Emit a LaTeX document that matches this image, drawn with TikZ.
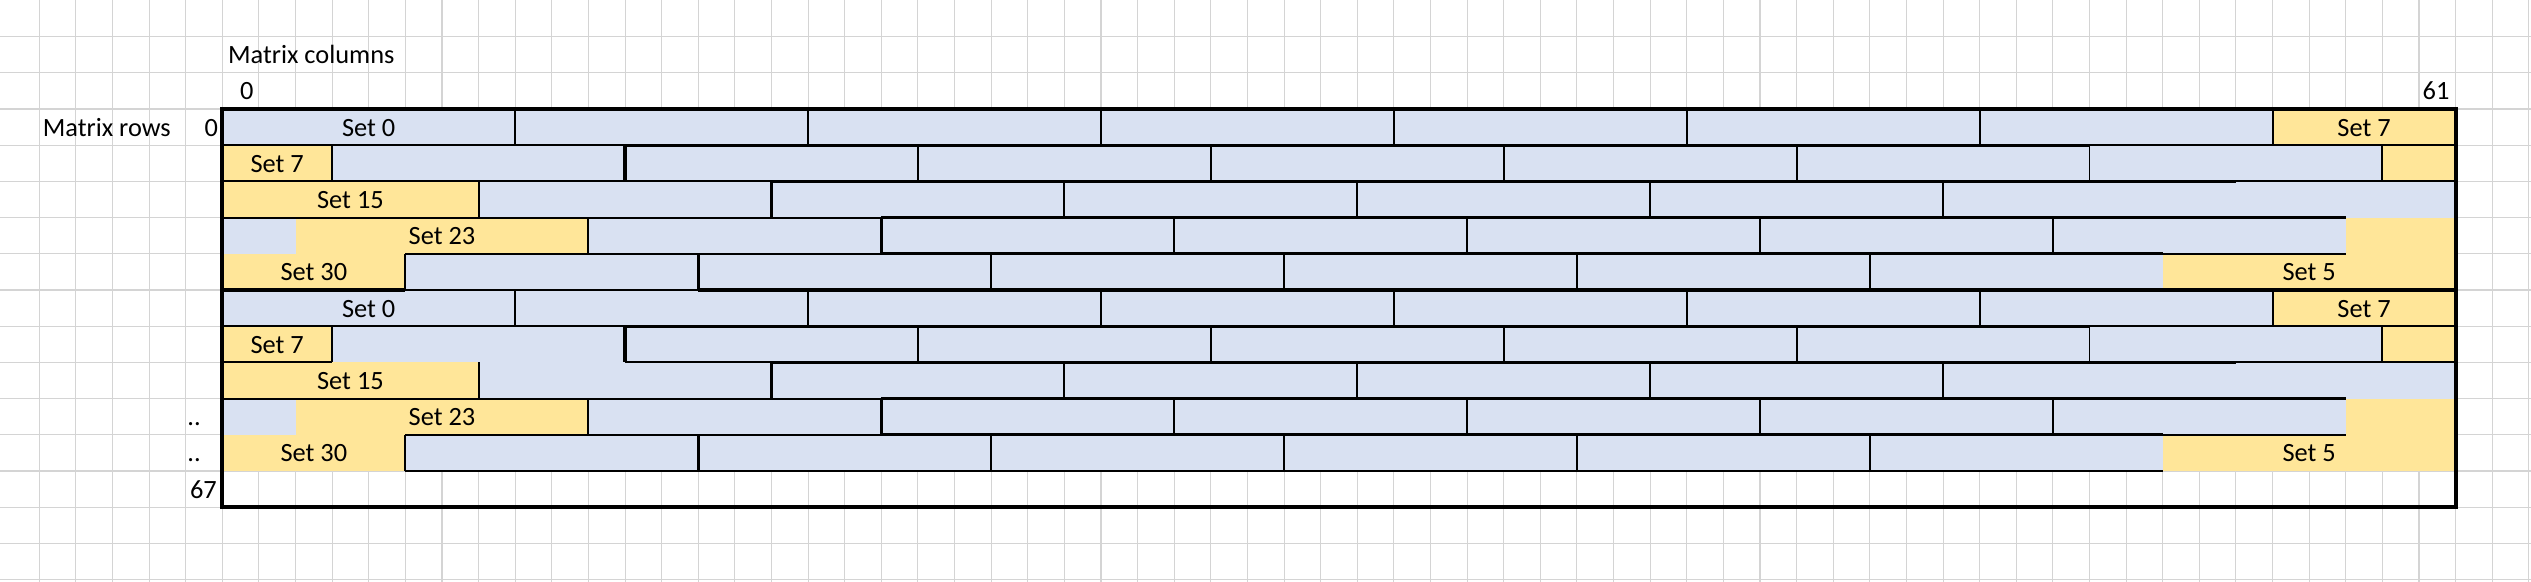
\documentclass[tikz,border=0pt]{standalone}
\usepackage{fontspec}
\setmainfont{Carlito}
\definecolor{setblue}{HTML}{D9E1F2}
\definecolor{setgold}{HTML}{FFE699}
\definecolor{cellgrid}{HTML}{D4D4D4}
\tikzset{
  gridline/.style={draw=cellgrid, line width=0.3pt},
  thinrule/.style={line width=0.55pt},
  thickrule/.style={line width=0.9pt},
  tableframe/.style={line width=1.15pt},
  celltext/.style={inner sep=0pt, font=\fontsize{7.5}{9}\selectfont},
  setlabel/.style={celltext, anchor=base}
}
\begin{document}
\begin{tikzpicture}[x=0.3661cm, y=0.362cm]
\useasboundingbox (-6.072,-13.066) rectangle (63.06,3.011);
% sheet grid
\foreach \x in {-5,...,63} \draw[gridline] (\x,3.1) -- (\x,-13.1);
\foreach \y in {-13,...,2} \draw[gridline] (-6.1,\y) -- (63.1,\y);
% two blocks of five rows
\foreach \b in {0,5} {
  \fill[setblue] (0,-\b) rectangle (61,-\b-5);
  \fill[setgold] (56,-\b) rectangle (61,-\b-1);
  \fill[setgold] (0,-\b-1) rectangle (3,-\b-2);
  \fill[setgold] (59,-\b-1) rectangle (61,-\b-2);
  \fill[setgold] (0,-\b-2) rectangle (7,-\b-3);
  \fill[setgold] (2,-\b-3) rectangle (10,-\b-4);
  \fill[setgold] (58,-\b-3) rectangle (61,-\b-4);
  \fill[setgold] (0,-\b-4) rectangle (5,-\b-5);
  \fill[setgold] (53,-\b-4) rectangle (61,-\b-5);
  % brick ends
  \foreach \x in {8,16,...,56} \draw[thinrule] (\x,-\b) -- (\x,-\b-1);
  \foreach \x in {3,19,27,35,43,51,59} \draw[thinrule] (\x,-\b-1) -- (\x,-\b-2);
  \foreach \x in {7,23,31,39,47} \draw[thinrule] (\x,-\b-2) -- (\x,-\b-3);
  \foreach \x in {10,26,34,42,50} \draw[thinrule] (\x,-\b-3) -- (\x,-\b-4);
  \foreach \x in {5,21,29,37,45} \draw[thinrule] (\x,-\b-4) -- (\x,-\b-5);
  \draw[thickrule] (11,-\b-1) -- (11,-\b-2);
  \draw[thickrule] (15,-\b-2) -- (15,-\b-3);
  \draw[thickrule] (18,-\b-3) -- (18,-\b-4);
  \draw[thickrule] (13,-\b-4) -- (13,-\b-5);
  % row edges
  \draw[thinrule] (0,-\b-1) -- (11,-\b-1) (51,-\b-1) -- (61,-\b-1);
  \draw[thickrule] (11,-\b-1) -- (51,-\b-1);
  \draw[thinrule] (55,-\b-2) -- (61,-\b-2);
  \draw[thickrule] (15,-\b-2) -- (55,-\b-2);
  \draw[thinrule] (0,-\b-3) -- (18,-\b-3);
  \draw[thickrule] (18,-\b-3) -- (58,-\b-3);
  \draw[thinrule] (5,-\b-4) -- (18,-\b-4) (53,-\b-4) -- (58,-\b-4);
  \draw[thickrule] (18,-\b-4) -- (53,-\b-4);
  % set names
  \node[setlabel] (set0-\b) at (4,-\b-0.75) {Set 0};
  \node[setlabel] (set7r-\b) at (58.5,-\b-0.75) {Set 7};
  \node[setlabel] (set7l-\b) at (1.5,-\b-1.75) {Set 7};
  \node[setlabel] (set15-\b) at (3.5,-\b-2.75) {Set 15};
  \node[setlabel] (set23-\b) at (6,-\b-3.75) {Set 23};
  \node[setlabel] (set30-\b) at (2.5,-\b-4.75) {Set 30};
  \node[setlabel] (set5-\b) at (57,-\b-4.75) {Set 5};
}
% edges that differ between the blocks
\draw[thinrule] (0,-2) -- (15,-2);
\draw[thinrule] (0,-7) -- (3,-7) (11,-7) -- (15,-7);
\draw[thickrule] (0,-5) -- (5,-5) (13,-5) -- (61,-5);
\draw[thinrule] (5,-5) -- (13,-5);
\draw[thinrule] (5,-10) -- (53,-10);
\draw[tableframe] (0,0) rectangle (61,-11);
% headers
\node[celltext, anchor=base west] (colhead) at (0.14,1.26) {Matrix columns};
\node[celltext, anchor=base east] (colfirst) at (0.87,0.27) {0};
\node[celltext, anchor=base east] (collast) at (60.85,0.27) {61};
\node[celltext, anchor=base west] (rowhead) at (-4.92,-0.75) {Matrix rows};
\node[celltext, anchor=base east] (rowfirst) at (-0.1,-0.75) {0};
\node[celltext, anchor=base west] (dotsa) at (-0.97,-8.75) {..};
\node[celltext, anchor=base west] (dotsb) at (-0.97,-9.75) {..};
\node[celltext, anchor=base east] (rowlast) at (-0.13,-10.75) {67};
\end{tikzpicture}
\end{document}
